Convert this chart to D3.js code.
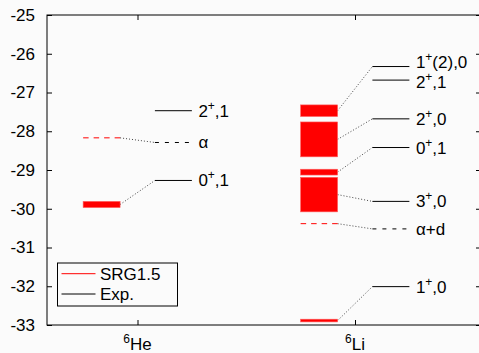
<!DOCTYPE html>
<html>
<head>
<meta charset="utf-8">
<script src="https://cdn.jsdelivr.net/npm/d3@7"></script>
<style>
  html, body { margin: 0; padding: 0; background: #fbfbfb; }
  svg { display: block; font-family: "Liberation Sans", Arial, Helvetica, sans-serif; }
</style>
</head>
<body>
<svg id="chart" width="479" height="353"></svg>
<script>
// Nuclei shown along the x axis
const nuclei = ["He", "Li"];
const massNumber = ["6", "6"];

// Levels: nucleus index, spin J, rest of label, experimental energy (MeV),
// SRG1.5 band edges (null when no calculated level)
const levelNucleus = [0, 0, 1, 1, 1, 1, 1, 1];
const levelJ       = ["0", "2", "1", "3", "0", "2", "2", "1"];
const levelRest    = [",1", ",1", ",0", ",0", ",1", ",0", ",1", "(2),0"];
const expEnergy    = [-29.27, -27.47, -32.01, -29.81, -28.42, -27.68, -26.68, -26.33];
const srgLow       = [-29.97, null, -32.92, -30.08, -29.13, -28.66, null, -27.62];
const srgHigh      = [-29.81, null, -32.85, -29.19, -28.98, -27.76, null, -27.32];

// Breakup thresholds
const thrNucleus = [0, 1];
const thrLabel   = ["α", "α+d"];
const thrExp     = [-28.29, -30.52];
const thrSrg     = [-28.17, -30.385];

// Axis ticks
const yTicks = [-25, -26, -27, -28, -29, -30, -31, -32, -33];

const legendLabels = ["SRG1.5", "Exp."];
const legendColors = ["#ff0000", "#000000"];

const svg = d3.select("#chart");
const padL = 47, padR = 481, padT = 15, padB = 325;
const fs = 17, fsSup = 12;

const x = d3.scaleLinear().domain([-0.4161, 1.5793]).range([padL, padR]);
const y = d3.scaleLinear().domain([-25, -33]).range([padT, padB]);

// Offsets (in category units) of the calculated and experimental columns
const srgX0 = -0.25, srgX1 = -0.08, expX0 = 0.08, expX1 = 0.25;

// Vertical nudges (px) for level labels that would otherwise collide
const labelNudge = [0, 0, 0, 0, 0, 0, 2, -4.5];

// Frame
svg.append("rect")
  .attr("x", padL).attr("y", padT)
  .attr("width", padR - padL).attr("height", padB - padT)
  .attr("fill", "none").attr("stroke", "#000").attr("stroke-width", 1);

// Axes
const yAxisL = d3.axisLeft(y).tickValues(yTicks).tickSize(-5).tickPadding(12)
  .tickFormat(d => String(d));
const gL = svg.append("g").attr("transform", `translate(${padL},0)`).call(yAxisL);
gL.select(".domain").remove();
gL.selectAll("text").attr("font-size", fs).attr("fill", "#000")
  .attr("font-family", "Liberation Sans, Arial, sans-serif");

const gR = svg.append("g").attr("transform", `translate(${padR},0)`)
  .call(d3.axisRight(y).tickValues(yTicks).tickSize(-5).tickFormat(""));
gR.select(".domain").remove();

const gT = svg.append("g").attr("transform", `translate(0,${padT})`)
  .call(d3.axisTop(x).tickValues([0, 1]).tickSize(-5).tickFormat(""));
gT.select(".domain").remove();

const gB = svg.append("g").attr("transform", `translate(0,${padB})`)
  .call(d3.axisBottom(x).tickValues([0, 1]).tickSize(-5).tickFormat(""));
gB.select(".domain").remove();

svg.selectAll(".tick line").attr("stroke", "#000");

// Nucleus labels with mass number superscript
nuclei.forEach((n, i) => {
  const t = svg.append("text")
    .attr("x", x(i)).attr("y", 350)
    .attr("text-anchor", "middle")
    .attr("font-size", fs).attr("fill", "#000");
  t.append("tspan").attr("font-size", fsSup).attr("dy", -7).text(massNumber[i]);
  t.append("tspan").attr("dy", 7).text(n);
});

// Connectors (dotted) from calculated to experimental levels
levelNucleus.forEach((k, i) => {
  if (srgLow[i] === null) return;
  svg.append("line")
    .attr("x1", x(k + srgX1)).attr("y1", y((srgLow[i] + srgHigh[i]) / 2))
    .attr("x2", x(k + expX0)).attr("y2", y(expEnergy[i]))
    .attr("stroke", "#444").attr("stroke-width", 1)
    .attr("stroke-dasharray", "1,2");
});
thrNucleus.forEach((k, i) => {
  svg.append("line")
    .attr("x1", x(k + srgX1)).attr("y1", y(thrSrg[i]))
    .attr("x2", x(k + expX0)).attr("y2", y(thrExp[i]))
    .attr("stroke", "#444").attr("stroke-width", 1)
    .attr("stroke-dasharray", "1,2");
});

// SRG1.5 bands
levelNucleus.forEach((k, i) => {
  if (srgLow[i] === null) return;
  svg.append("rect")
    .attr("x", x(k + srgX0))
    .attr("y", y(srgHigh[i]))
    .attr("width", x(k + srgX1) - x(k + srgX0))
    .attr("height", y(srgLow[i]) - y(srgHigh[i]))
    .attr("fill", "#ff0000")
    .attr("stroke", "#ff6060").attr("stroke-width", 0.6);
});

// SRG1.5 thresholds (dashed red)
thrNucleus.forEach((k, i) => {
  svg.append("line")
    .attr("x1", x(k + srgX0)).attr("x2", x(k + srgX1))
    .attr("y1", y(thrSrg[i])).attr("y2", y(thrSrg[i]))
    .attr("stroke", "#ff0000").attr("stroke-width", 1)
    .attr("stroke-dasharray", "5.5,5");
});

// Experimental levels
levelNucleus.forEach((k, i) => {
  svg.append("line")
    .attr("x1", x(k + expX0)).attr("x2", x(k + expX1))
    .attr("y1", y(expEnergy[i])).attr("y2", y(expEnergy[i]))
    .attr("stroke", "#000").attr("stroke-width", 1);
  const t = svg.append("text")
    .attr("x", x(k + expX1) + 6.5).attr("y", y(expEnergy[i]) + 6 + labelNudge[i])
    .attr("font-size", fs).attr("fill", "#000");
  t.append("tspan").text(levelJ[i]);
  t.append("tspan").attr("font-size", fsSup).attr("dy", -7).text("+");
  t.append("tspan").attr("dy", 7).text(levelRest[i]);
});

// Experimental thresholds (dashed black)
thrNucleus.forEach((k, i) => {
  svg.append("line")
    .attr("x1", x(k + expX0)).attr("x2", x(k + expX1))
    .attr("y1", y(thrExp[i])).attr("y2", y(thrExp[i]))
    .attr("stroke", "#000").attr("stroke-width", 1)
    .attr("stroke-dasharray", "4,6");
  svg.append("text")
    .attr("x", x(k + expX1) + 6.5).attr("y", y(thrExp[i]) + 6)
    .attr("font-size", fs).attr("fill", "#000")
    .text(thrLabel[i]);
});

// Legend
const lg = svg.append("g").attr("transform", "translate(57.5,263)");
lg.append("rect").attr("width", 120).attr("height", 43)
  .attr("fill", "#fbfbfb").attr("stroke", "#000").attr("stroke-width", 1);
legendLabels.forEach((lab, i) => {
  const yy = 10.7 + i * 20.3;
  lg.append("line").attr("x1", 4).attr("x2", 38).attr("y1", yy).attr("y2", yy)
    .attr("stroke", legendColors[i]).attr("stroke-width", 1);
  lg.append("text").attr("x", 42.5).attr("y", yy + 6)
    .attr("font-size", fs).attr("fill", "#000").text(lab);
});
</script>
</body>
</html>
